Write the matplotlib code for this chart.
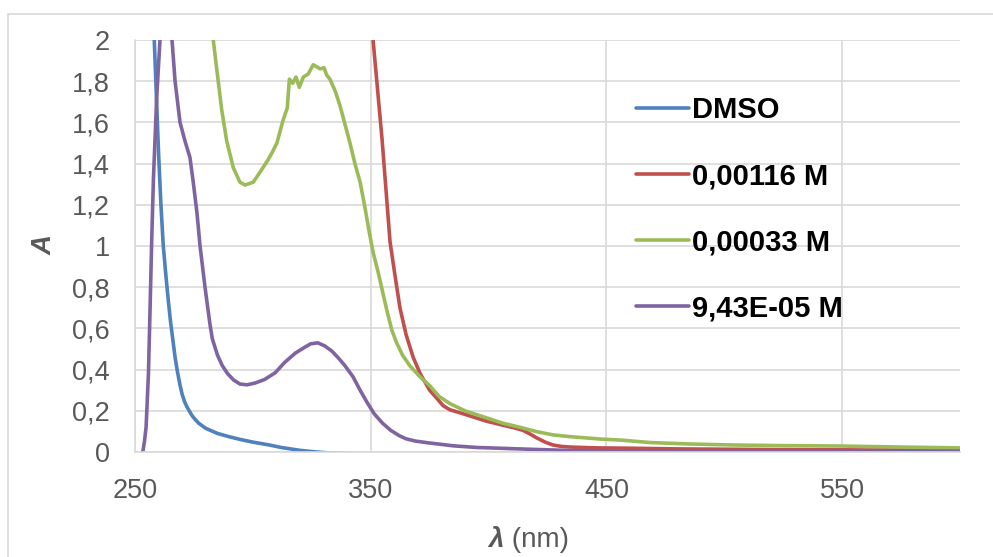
import matplotlib
matplotlib.use("Agg")
import matplotlib.pyplot as plt
from matplotlib.patches import Rectangle

# ---------------- data ----------------
series_names = ["DMSO", "0,00116 M", "0,00033 M", "9,43E-05 M"]
series_colors = ["#4F81BD", "#C0504D", "#9BBB59", "#8064A2"]

dmso_wl = [254, 256, 258, 260, 261, 262, 263, 264, 265, 266, 267, 268, 269, 270, 271, 272,
           273, 274, 275, 277, 280, 285, 290, 295, 300, 307, 312, 320, 327, 333, 340, 350,
           400, 600]
dmso_a = [3.2, 2.6, 2.05, 1.45, 1.2, 1.0, 0.87, 0.75, 0.64, 0.55, 0.46, 0.39, 0.33, 0.28,
          0.245, 0.22, 0.2, 0.18, 0.165, 0.14, 0.115, 0.09, 0.074, 0.06, 0.048, 0.034,
          0.022, 0.008, 0.0, -0.005, -0.008, -0.015, -0.03, -0.04]

c1_wl = [345, 351, 354.8, 358.2, 360, 362.4, 365, 368, 371, 375, 378.1, 380.7,
         383.6, 388, 392.1, 399, 406.1, 411, 414.6, 417.5, 420.5, 424, 427.3, 431, 434.6,
         445, 455.8, 480, 520, 560, 600]
c1_a = [2.6, 2.0, 1.52, 1.02, 0.88, 0.70, 0.57, 0.46, 0.38, 0.30, 0.26, 0.225,
        0.205, 0.19, 0.175, 0.15, 0.13, 0.117, 0.105, 0.088, 0.068, 0.048, 0.034, 0.027,
        0.024, 0.02, 0.019, 0.015, 0.012, 0.01, 0.009]

c2_wl = [278, 281, 283.2, 285.3, 286.8, 288.9, 291.7, 294.5, 296.7, 300.2, 303.7, 306,
         308, 310.2, 312.8, 314.6, 315.5, 316.9, 318.3, 319.7, 321.4, 323.5, 325.6, 326.4,
         328.5, 330.2, 331.3, 332.7, 335, 337, 339.1, 341.2, 343.3, 345.5, 347.5, 349.5,
         351, 353, 355, 357, 359, 361, 363.5, 366.5, 370.9, 375.2, 379, 383.6, 390,
         399.3, 406, 413.3, 420, 427.3, 435, 441.8, 447.3, 455.8, 468.5, 485, 503.7, 525,
         549, 575, 600]
c2_a = [2.6, 2.2, 2.0, 1.8, 1.66, 1.51, 1.38, 1.31, 1.296, 1.31, 1.37, 1.41,
        1.45, 1.50, 1.61, 1.67, 1.81, 1.79, 1.82, 1.77, 1.82, 1.835, 1.88, 1.875,
        1.86, 1.865, 1.83, 1.81, 1.75, 1.68, 1.59, 1.50, 1.40, 1.31, 1.19, 1.06,
        0.97, 0.88, 0.78, 0.68, 0.59, 0.53, 0.47, 0.42, 0.365, 0.32, 0.27, 0.235, 0.20,
        0.165, 0.14, 0.12, 0.10, 0.083, 0.074, 0.068, 0.063, 0.058, 0.046, 0.039, 0.034,
        0.031, 0.029, 0.024, 0.02]

c3_wl = [253, 253.3, 254.0, 254.7, 255.7, 256.4, 257.1, 257.8, 259.2, 260.6, 262, 263.3,
         264.5, 265.7, 267, 269.1, 271.2, 273.3, 274.6, 276.3, 277.6, 279.7, 281.8, 282.8,
         285, 287, 289.3, 291.8, 294.5, 297.5, 301, 305, 309.5, 313.5, 318, 321.5, 324.5,
         327.5, 330.5, 333.5, 336, 339, 342.5, 345.5, 348.5, 351.5, 355, 358.5, 362, 365,
         369, 374, 380, 385, 395, 413, 435, 460, 500, 550, 600]
c3_a = [-0.05, 0.0, 0.05, 0.12, 0.38, 0.70, 1.03, 1.32, 1.72, 2.0, 2.3, 2.4,
        2.25, 2.0, 1.8, 1.6, 1.51, 1.43, 1.32, 1.16, 1.0, 0.8, 0.62, 0.55,
        0.47, 0.42, 0.38, 0.35, 0.33, 0.326, 0.335, 0.352, 0.385, 0.435, 0.48, 0.505, 0.525,
        0.53, 0.515, 0.49, 0.46, 0.42, 0.365, 0.30, 0.24, 0.185, 0.14, 0.105, 0.08, 0.064,
        0.053, 0.045, 0.037, 0.03, 0.022, 0.015, 0.007, 0.005, 0.004, 0.003, 0.003]

x_ticks = [250, 350, 450, 550]
x_tick_labels = ["250", "350", "450", "550"]
y_ticks = [0, 0.2, 0.4, 0.6, 0.8, 1.0, 1.2, 1.4, 1.6, 1.8, 2.0]
y_tick_labels = ["0", "0,2", "0,4", "0,6", "0,8", "1", "1,2", "1,4", "1,6", "1,8", "2"]

# ---------------- figure ----------------
plt.rcParams['font.family'] = ['Liberation Sans', 'DejaVu Sans']
W, H = 993, 557
fig = plt.figure(figsize=(W / 100, H / 100), dpi=100)
fig.patch.set_facecolor("white")

# chart area border
fig.patches.append(Rectangle((8 / W, -0.2), 1.2, 1.2 - 14 / H, transform=fig.transFigure,
                             fill=False, edgecolor="#D9D9D9", linewidth=1.2, zorder=0))

ax = fig.add_axes([135 / W, 1 - 452 / H, (960 - 135) / W, (452 - 40) / H])
ax.set_xlim(250, 600)
ax.set_ylim(0, 2)

grid_c = "#D9D9D9"
for s in ["top", "right"]:
    ax.spines[s].set_visible(False)
for s in ["left", "bottom"]:
    ax.spines[s].set_color(grid_c)
    ax.spines[s].set_linewidth(1.2)

ax.set_xticks(x_ticks)
ax.set_xticklabels(x_tick_labels)
ax.set_yticks(y_ticks)
ax.set_yticklabels(y_tick_labels)
ax.tick_params(axis="both", length=0, labelsize=19.5, colors="#595959")
ax.tick_params(axis="x", pad=19)
ax.tick_params(axis="y", pad=18)
ax.grid(True, color=grid_c, linewidth=1.2)
ax.set_axisbelow(True)

xs = [dmso_wl, c1_wl, c2_wl, c3_wl]
ys = [dmso_a, c1_a, c2_a, c3_a]
for x, y, name, col in zip(xs, ys, series_names, series_colors):
    ax.plot(x, y, color=col, linewidth=2.6, label=name, solid_capstyle="round",
            solid_joinstyle="round")

leg = ax.legend(loc="upper left", bbox_to_anchor=(636 / W, 1 - 96 / H),
                bbox_transform=fig.transFigure, frameon=False, borderpad=0,
                borderaxespad=0, handlelength=1.8, handletextpad=0.12,
                labelspacing=1.31, prop={"weight": "bold", "size": 21})
for t in leg.get_texts():
    t.set_color("black")

fig.text(45 / W, 1 - 245 / H, "A", rotation=90, ha="center", va="center",
         fontsize=20, color="#595959", fontweight="bold", fontstyle="italic")
fig.text(504 / W, 1 - 540 / H, "\u03bb", ha="right", va="center",
         fontsize=20, color="#595959", fontweight="bold", fontstyle="italic")
fig.text(504 / W, 1 - 540 / H, " (nm)", ha="left", va="center",
         fontsize=20, color="#595959")

fig.savefig("out.png", dpi=100)
